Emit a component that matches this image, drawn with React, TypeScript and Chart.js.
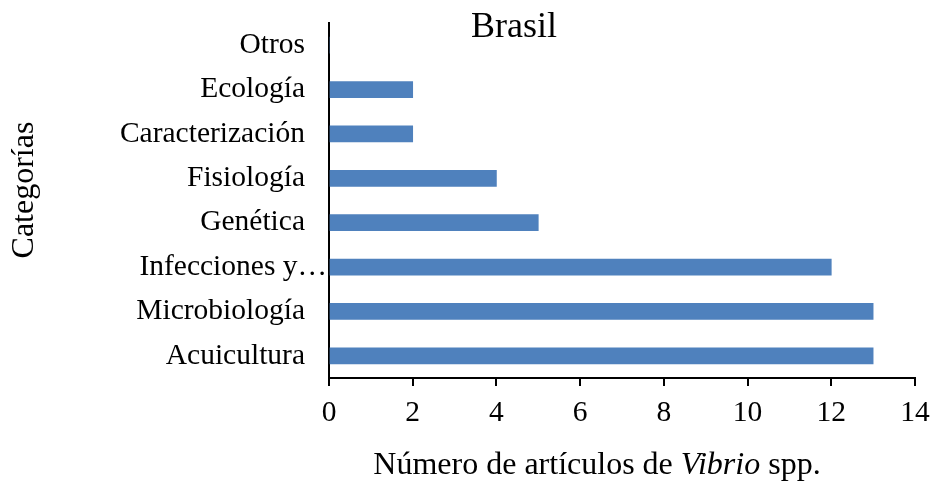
import React, { useEffect, useRef } from "react";
import { Chart, registerables } from "chart.js";

Chart.register(...registerables);

const categories = [
  "Otros",
  "Ecología",
  "Caracterización",
  "Fisiología",
  "Genética",
  "Infecciones y…",
  "Microbiología",
  "Acuicultura",
];
const values = [0, 2, 2, 4, 5, 12, 13, 13];
const xTicks = [0, 2, 4, 6, 8, 10, 12, 14];
const chartTitle = "Brasil";
const yTitle = "Categorías";
const xTitleParts = [
  { text: "Número de artículos de ", italic: false },
  { text: "Vibrio", italic: true },
  { text: " spp.", italic: false },
];

const SERIF = '"Liberation Serif", "Times New Roman", serif';

const titlesPlugin = {
  id: "customTitles",
  afterDraw(chart: any) {
    const ctx = chart.ctx as CanvasRenderingContext2D;
    const yScale = chart.scales.y;
    const area = chart.chartArea;
    ctx.save();
    ctx.fillStyle = "#000";

    // Category labels (truncated label sits closer to the axis, as in Excel)
    ctx.font = `29.5px ${SERIF}`;
    ctx.textAlign = "right";
    ctx.textBaseline = "middle";
    categories.forEach((c, i) => {
      const y = yScale.getPixelForTick(i);
      const truncated = c.endsWith("…");
      ctx.fillText(c, area.left - (truncated ? 2 : 24), y);
    });

    ctx.font = `36px ${SERIF}`;
    ctx.textAlign = "center";
    ctx.textBaseline = "alphabetic";
    ctx.fillText(chartTitle, 514, 37);

    const size = 32;
    let total = 0;
    const widths = xTitleParts.map((p) => {
      ctx.font = `${p.italic ? "italic " : ""}${size}px ${SERIF}`;
      const w = ctx.measureText(p.text).width;
      total += w;
      return w;
    });
    let x = 597 - total / 2;
    ctx.textAlign = "left";
    xTitleParts.forEach((p, i) => {
      ctx.font = `${p.italic ? "italic " : ""}${size}px ${SERIF}`;
      ctx.fillText(p.text, x, 474);
      x += widths[i];
    });

    ctx.translate(33, 190);
    ctx.rotate(-Math.PI / 2);
    ctx.font = `32px ${SERIF}`;
    ctx.textAlign = "center";
    ctx.textBaseline = "alphabetic";
    ctx.fillText(yTitle, 0, 0);
    ctx.restore();
  },
};

export default function App() {
  const ref = useRef<HTMLCanvasElement | null>(null);
  useEffect(() => {
    document.body.style.margin = "0";
    const canvas = ref.current;
    if (!canvas) return;
    const chart = new Chart(canvas, {
      type: "bar",
      data: {
        labels: categories,
        datasets: [
          {
            data: values,
            backgroundColor: "#4F81BD",
            borderWidth: 0,
            barThickness: 16,
          },
        ],
      },
      options: {
        indexAxis: "y",
        animation: false,
        responsive: false,
        maintainAspectRatio: false,
        layout: { padding: { left: 0, top: 23, right: 21, bottom: 0 } },
        plugins: {
          legend: { display: false },
          title: { display: false },
          tooltip: { enabled: false },
        },
        scales: {
          x: {
            type: "linear",
            min: 0,
            max: 14,
            afterBuildTicks: (scale: any) => {
              scale.ticks = xTicks.map((v) => ({ value: v }));
            },
            afterFit: (scale: any) => {
              scale.height = 107;
              scale.paddingLeft = 0;
              scale.paddingRight = 0;
              scale.paddingTop = 0;
              scale.paddingBottom = 0;
            },
            ticks: {
              color: "#000",
              font: { family: SERIF, size: 29.5 },
              padding: 10,
              maxRotation: 0,
            },
            grid: {
              display: true,
              drawOnChartArea: false,
              drawTicks: true,
              tickLength: 8,
              color: "#000",
              lineWidth: 2,
            },
            border: { display: true, color: "#000", width: 2 },
          },
          y: {
            afterFit: (scale: any) => {
              scale.width = 329;
              scale.paddingLeft = 0;
              scale.paddingRight = 0;
              scale.paddingTop = 0;
              scale.paddingBottom = 0;
            },
            ticks: {
              display: false,
              autoSkip: false,
            },
            grid: {
              display: true,
              drawOnChartArea: false,
              drawTicks: false,
              color: "#000",
            },
            border: { display: true, color: "#000", width: 2 },
          },
        },
      },
      plugins: [titlesPlugin],
    } as any);
    return () => chart.destroy();
  }, []);
  return (
    <div style={{ width: 936, height: 485 }}>
      <canvas ref={ref} width={936} height={485} style={{ width: 936, height: 485, display: "block" }} />
    </div>
  );
}
